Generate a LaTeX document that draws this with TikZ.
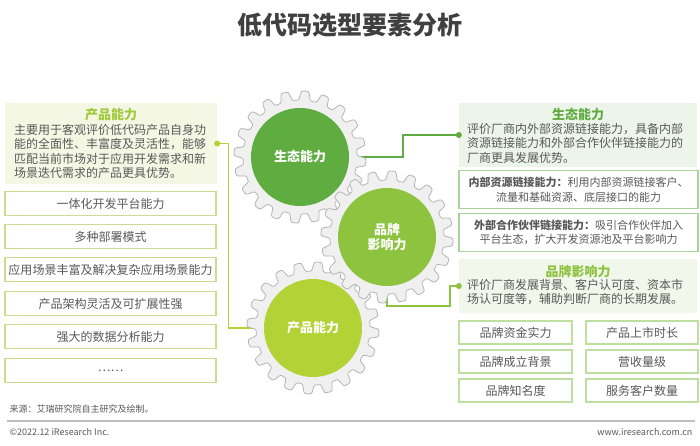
\documentclass[tikz,border=0pt]{standalone}
\usepackage{fontspec}
\setmainfont{Noto Sans CJK SC}
\pgfdeclarelayer{bgl}
\pgfdeclarelayer{conn}
\pgfdeclarelayer{gears}
\pgfsetlayers{bgl,conn,gears,main}
\definecolor{gA}{HTML}{5FAD41}
\definecolor{gB}{HTML}{8DC33F}
\definecolor{gC}{HTML}{B3D235}
\definecolor{limeT}{HTML}{A2C93A}
\definecolor{limeBd}{HTML}{C9DF8F}
\definecolor{limeFill}{HTML}{F3F7E4}
\definecolor{ecoFill}{HTML}{EDF5EA}
\definecolor{ecoBd}{HTML}{A9D59B}
\definecolor{brFill}{HTML}{F1F7EA}
\definecolor{brBd}{HTML}{BEDFA0}
\definecolor{txt}{HTML}{595959}
\definecolor{gearFill}{HTML}{F0F0F0}
\definecolor{gearLine}{HTML}{B5B5B5}
\tikzset{
  bodytext/.style={font=\fontsize{12}{14.5}\selectfont, text=txt, inner sep=0pt, align=left},
  boxtext/.style={font=\fontsize{12}{14}\selectfont, text=txt},
  lbox/.style={draw=limeBd, line width=1.2pt, fill=white, minimum width=211, minimum height=24, boxtext},
  ebox/.style={draw=ecoBd, line width=1.2pt, fill=white, minimum width=239, minimum height=38, font=\fontsize{11}{14.5}\selectfont, text=txt, align=center, inner sep=0pt},
  bbox/.style={draw=brBd, line width=1.2pt, fill=white, minimum height=23, boxtext},
  descfill/.style={draw=none, inner sep=0pt},
  gearshape/.style={fill=gearFill, draw=gearLine, line width=0.8pt},
  hub/.style={circle, minimum size=98, inner sep=0pt, text=white, font=\fontsize{13}{15.5}\selectfont\bfseries, align=center},
  dotA/.style={circle, inner sep=0pt, minimum size=6},
  conn/.style={line width=1.1pt},
}
\newcommand{\gearat}[1]{%
  \draw[gearshape, shift={#1}] plot[domain=0:360, samples=481] (\x:{61.5+4.6*tanh(2.6*sin(20*\x))/0.9890}) -- cycle;}
\begin{document}
\begin{tikzpicture}[x=1pt, y=-1pt]
\begin{pgfonlayer}{bgl}
\fill[white] (0,0) rectangle (700,445);
\end{pgfonlayer}
\useasboundingbox (0,0) rectangle (700,445);

% title
\node[font=\fontsize{25}{28}\selectfont\bfseries, text=black!75] (title) at (350,25) {低代码选型要素分析};

% ---------------- left panel
\node[descfill, fill=limeFill, minimum width=212, minimum height=81] (pdesc) at (111,143.5) {};
\node[font=\fontsize{13}{15}\selectfont\bfseries, text=limeT] (pdt) at (111,115) {产品能力};
\node[bodytext, anchor=north west] (pdb) at (14,124) {主要用于客观评价低代码产品自身功\\能的全面性、丰富度及灵活性，能够\\匹配当前市场对于应用开发需求和新\\场景迭代需求的产品更具优势。};

\node[lbox] (l1) at (110.5,203.5) {一体化开发平台能力};
\node[lbox] (l2) at (110.5,236.5) {多种部署模式};
\node[lbox] (l3) at (110.5,269.5) {应用场景丰富及解决复杂应用场景能力};
\node[lbox] (l4) at (110.5,303.5) {产品架构灵活及可扩展性强};
\node[lbox] (l5) at (110.5,336.5) {强大的数据分析能力};
\node[lbox] (l6) at (110.5,370.5) {……};

% ---------------- right panel (ecology)
\node[descfill, fill=ecoFill, minimum width=238, minimum height=64] (edesc) at (578,135) {};
\node[font=\fontsize{13}{15}\selectfont\bfseries, text=gA] (edt) at (578,115) {生态能力};
\node[bodytext, anchor=north west] (edb) at (467,123) {评价厂商内外部资源链接能力，具备内部\\资源链接能力和外部合作伙伴链接能力的\\厂商更具发展优势。};
\node[ebox] (ea) at (578.5,189.5) {\textbf{内部资源链接能力：}利用内部资源链接客户、\\流量和基础资源、底层接口的能力};
\node[ebox] (eb) at (578.5,232.5) {\textbf{外部合作伙伴链接能力：}吸引合作伙伴加入\\平台生态，扩大开发资源池及平台影响力};

% ---------------- right panel (brand)
\node[descfill, fill=brFill, minimum width=238, minimum height=54] (bdesc) at (578,286) {};
\node[font=\fontsize{13}{15}\selectfont\bfseries, text=gB] (bdt) at (578,272) {品牌影响力};
\node[bodytext, anchor=north west] (bdb) at (467,279) {评价厂商发展背景、客户认可度、资本市\\场认可度等，辅助判断厂商的长期发展。};
\node[bbox, minimum width=113] (b1) at (515.5,332.5) {品牌资金实力};
\node[bbox, minimum width=112] (b2) at (642,332.5) {产品上市时长};
\node[bbox, minimum width=113] (b3) at (515.5,361.5) {品牌成立背景};
\node[bbox, minimum width=112] (b4) at (642,361.5) {营收量级};
\node[bbox, minimum width=113] (b5) at (515.5,390.5) {品牌知名度};
\node[bbox, minimum width=112] (b6) at (642,390.5) {服务客户数量};

% ---------------- gears
\begin{pgfonlayer}{gears}
\gearat{(300,157)}
\gearat{(313,328)}
\gearat{(387,237)}
\end{pgfonlayer}
\node[hub, fill=gA] (g1) at (300,157) {生态能力};
\node[hub, fill=gB] (g2) at (387,237) {品牌\\影响力};
\node[hub, fill=gC] (g3) at (313,328) {产品能力};

% ---------------- connectors
\coordinate (k1) at (403,157);
\coordinate (k2) at (450,306);
\node[dotA, fill=gC] (d1) at (pdesc.east) {};
\node[dotA, fill=gA] (d2) at (edesc.west) {};
\node[dotA, fill=gB] (d3) at (bdesc.west) {};
\begin{pgfonlayer}{conn}
\draw[conn, draw=gC] (d1.center) -- ++(11,0) |- (g3.west);
\draw[conn, draw=gA] (g1.east) -- (k1) |- (d2.center);
\draw[conn, draw=gB] (g2.south) |- (k2) |- (d3.center);
\end{pgfonlayer}

% ---------------- footer
\node[font=\fontsize{9}{11}\selectfont, text=txt, anchor=west] (src) at (6,409) {来源：艾瑞研究院自主研究及绘制。};
\coordinate (r1) at (7,421);
\coordinate (r2) at (695,421);
\draw[line width=1.5pt, draw=black!25] (r1) -- (r2);
\node[font=\fontsize{9}{11}\selectfont, text=txt, anchor=west] (copy) at (6,432) {©2022.12 iResearch Inc.};
\node[font=\fontsize{9}{11}\selectfont, text=txt, anchor=east] (www) at (696,432) {www.iresearch.com.cn};
\end{tikzpicture}
\end{document}
